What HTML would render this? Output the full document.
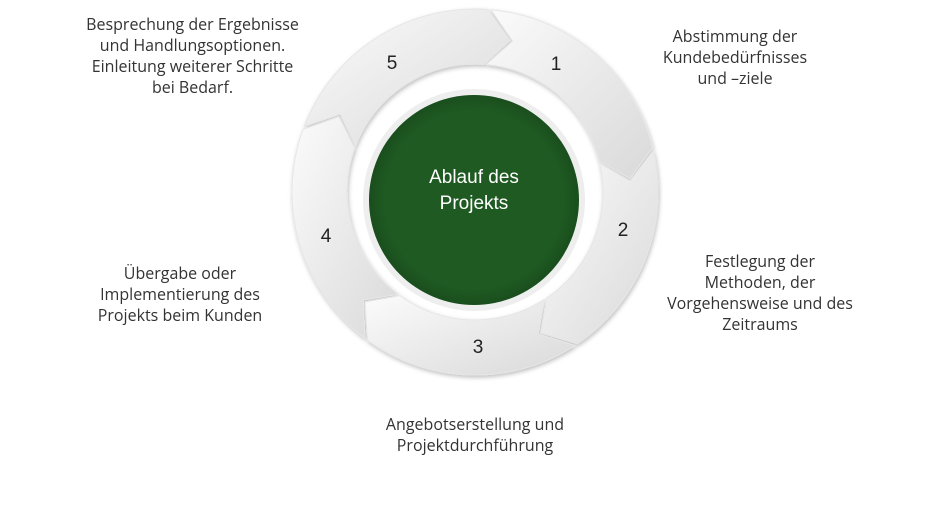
<!DOCTYPE html>
<html><head><meta charset="utf-8"><style>
body{margin:0;width:927px;height:524px;background:#fff;overflow:hidden;position:relative;font-family:"Open Sans","Liberation Sans",sans-serif;}
.t{position:absolute;color:#333;font-size:16px;line-height:21px;text-align:center;white-space:nowrap}
</style></head><body>
<svg id="s" width="927" height="524" style="position:absolute;left:0;top:0">
<defs>
<linearGradient id="g" x1="0" y1="0" x2="1" y2="1"><stop offset="0" stop-color="#fbfbfb"/><stop offset="1" stop-color="#d9d9d9"/></linearGradient>
<filter id="sh" x="-20%" y="-20%" width="140%" height="140%"><feDropShadow dx="1" dy="2" stdDeviation="2" flood-color="#000" flood-opacity="0.25"/></filter>
<radialGradient id="cg" cx="0.5" cy="0.5" r="0.5"><stop offset="0.85" stop-color="#1f5a22"/><stop offset="1" stop-color="#1a4e1d"/></radialGradient>
</defs>
<g id="ring" filter="url(#sh)"></g>
<circle cx="474" cy="200" r="111" fill="#eeeeee"/>
<circle cx="474" cy="200" r="105" fill="url(#cg)"/>
<text x="474" y="183" fill="#fff" font-size="19" text-anchor="middle" font-family="Liberation Sans, sans-serif">Ablauf des</text>
<text x="474" y="209" fill="#fff" font-size="19" text-anchor="middle" font-family="Liberation Sans, sans-serif">Projekts</text>
<g font-family="Liberation Sans, sans-serif" font-size="19" fill="#222" text-anchor="middle">
<text x="556" y="70">1</text><text x="623" y="236">2</text><text x="478" y="353">3</text><text x="326" y="242">4</text><text x="392" y="69">5</text>
</g>
</svg>
<script>
(function(){
var cx=475,cy=192,R=183,r=128,m=(R+r)/2,d=9;
function p(rad,ang){var a=(ang-90)*Math.PI/180;return (cx+rad*Math.cos(a)).toFixed(1)+","+(cy+rad*Math.sin(a)).toFixed(1);}
var b=[5,77,147,217,291],h="";
for(var i=0;i<5;i++){var a0=b[i],a1=b[(i+1)%5];if(a1<a0)a1+=360;a1-=1;
h+='<path fill="url(#g)" stroke="#e6e6e6" stroke-width="1" d="M'+p(R,a0)+' A'+R+','+R+' 0 0 1 '+p(R,a1)+' L'+p(m,a1+d)+' L'+p(r,a1)+' A'+r+','+r+' 0 0 0 '+p(r,a0)+' L'+p(m,a0+d)+' Z"/>';}
document.getElementById('ring').innerHTML=h;
})();
</script>
<div class="t" style="left:60px;top:14px;width:265px">Besprechung der Ergebnisse<br>und Handlungsoptionen.<br>Einleitung weiterer Schritte<br>bei Bedarf.</div>
<div class="t" style="left:630px;top:26px;width:210px">Abstimmung der<br>Kundebedürfnisses<br>und –ziele</div>
<div class="t" style="left:640px;top:251px;width:240px">Festlegung der<br>Methoden, der<br>Vorgehensweise und des<br>Zeitraums</div>
<div class="t" style="left:80px;top:263px;width:200px">Übergabe oder<br>Implementierung des<br>Projekts beim Kunden</div>
<div class="t" style="left:350px;top:414px;width:250px">Angebotserstellung und<br>Projektdurchführung</div>
</body></html>
